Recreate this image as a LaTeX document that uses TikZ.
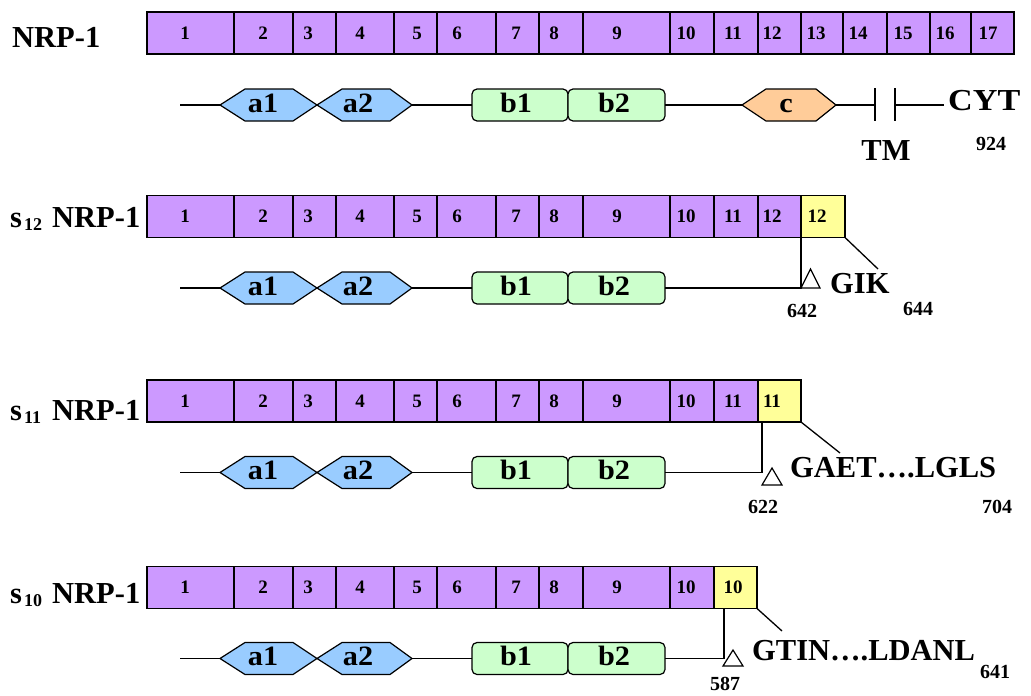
\documentclass[tikz,border=0pt]{standalone}
\usepackage{fontspec}
\setmainfont{Liberation Serif}
\usetikzlibrary{calc}
\definecolor{purp}{HTML}{CC99FF}
\definecolor{yel}{HTML}{FFFF99}
\definecolor{blu}{HTML}{99CCFF}
\definecolor{grn}{HTML}{CCFFCC}
\definecolor{org}{HTML}{FFCC99}
\tikzset{
  seg/.style={draw, line width=1.3pt, inner sep=0pt, outer sep=0pt, minimum height=42pt},
  num/.style={font=\fontsize{19}{19}\selectfont\bfseries, inner sep=0pt},
  big/.style={font=\fontsize{30.5}{31}\selectfont\bfseries, inner sep=0pt},
  dom/.style={font=\fontsize{28}{28}\selectfont\bfseries, inner sep=0pt, anchor=base},
  small/.style={font=\fontsize{20}{20}\selectfont\bfseries, inner sep=0pt, anchor=base},
  hexa/.style={draw, line width=1.2pt, line join=miter},
  rbox/.style={draw, line width=1.2pt, rounded corners=5pt, fill=grn, minimum height=32pt, inner sep=0pt, outer sep=0pt},
  ln/.style={line width=1.3pt},
  tri/.style={draw, line width=1.2pt, fill=white, line join=miter},
}
\newcommand\widetxt[1]{\scalebox{1.08}[1]{#1}}
\def\seglist{1/147/234/185,2/234/293/263,3/293/336/308,4/336/394/360,5/394/437/417,6/437/496/457,7/496/539/516,8/539/583/554,9/583/670/617,10/670/714/686,11/714/758/733,12/758/801/772,13/801/843/816,14/843/887/858,15/887/930/903,16/930/971/945,17/971/1014/988}
\newcommand\barrow[3]{%
  \foreach \i/\xa/\xb/\lx in \seglist {
    \ifnum\i>#3\relax\else
      \node[seg, fill=purp, minimum width={\xb pt-\xa pt}] (#1s\i) at ({(\xa+\xb)/2},#2) {};
      \node[num] (#1n\i) at (\lx,#2) {\i};
    \fi
  }%
}
\newcommand\domrow[2]{%
  \begin{scope}[shift={(0,#2)}]
    \coordinate (#1L) at (180,0);
    \draw[hexa, fill=blu] (220,0) -- (245,-16) -- (293,-16) -- (317,0) -- (293,16) -- (245,16) -- cycle;
    \draw[hexa, fill=blu] (317,0) -- (342,-16) -- (390,-16) -- (412,0) -- (390,16) -- (342,16) -- cycle;
    \coordinate (#1a1w) at (220,0);
    \coordinate (#1a2e) at (412,0);
    \node[dom] (#1ta1) at (263,7) {\widetxt{a1}};
    \node[dom] (#1ta2) at (358,7) {\widetxt{a2}};
    \node[rbox, minimum width=96pt] (#1b1) at (520,0) {};
    \node[rbox, minimum width=97pt] (#1b2) at (616.5,0) {};
    \node[dom] (#1tb1) at (516,7) {\widetxt{b1}};
    \node[dom] (#1tb2) at (614,7) {\widetxt{b2}};
    \draw[ln] (#1L) -- (#1a1w);
    \draw[ln] (#1a2e) -- (#1b1.west);
  \end{scope}%
}
\begin{document}
\begin{tikzpicture}[x=1pt,y=-1pt]
\useasboundingbox (0,0) rectangle (1031,696);
% ---------- row 1 ----------
\node[big, anchor=base west] (lab1) at (12,47) {NRP-1};
\barrow{r1}{33}{17}
\domrow{d1}{105}
\begin{scope}[shift={(0,105)}]
  \draw[hexa, fill=org] (742,0) -- (766,-16) -- (816,-16) -- (836,0) -- (816,16) -- (766,16) -- cycle;
  \coordinate (cW) at (742,0);
  \coordinate (cE) at (836,0);
  \node[dom] (tc) at (786,7) {\widetxt{c}};
  \coordinate (tm1) at (875,0);
  \coordinate (tm2) at (895,0);
  \coordinate (cytL) at (944,0);
  \draw[ln] (d1b2.east) -- (cW);
  \draw[ln] (cE) -- (tm1);
  \draw[ln] ($(tm1)+(0,-17)$) -- ($(tm1)+(0,16)$);
  \draw[ln] ($(tm2)+(0,-17)$) -- ($(tm2)+(0,16)$);
  \draw[ln] (tm2) -- (cytL);
\end{scope}
\node[big, anchor=base west] (cyt) at (948,110) {\scalebox{1.12}[1]{CYT}};
\node[big, anchor=base] (tm) at (886,160) {TM};
\node[small] (n924) at (991,150) {924};
% ---------- row 2 ----------
\node[big, anchor=base west] (s2) at (10,227) {s\hspace{2pt}\raisebox{-3pt}{\fontsize{18}{18}\selectfont 12}};
\node[big, anchor=base west] (lab2) at (52,227) {NRP-1};
\barrow{r2}{216.5}{12}
\node[seg, fill=yel, minimum width=44pt] (r2y) at (823,216.5) {};
\node[num] (r2yn) at (817,216.5) {12};
\domrow{d2}{288}
\coordinate (r2v) at (801,288);
\draw[ln] (d2b2.east) -- (r2v) -- (r2s12.south east);
\draw[tri] (801,288) -- (820,288) -- (810.5,269) -- cycle;
\coordinate (r2d) at (878,269);
\draw[ln] (r2y.south east) -- (r2d);
\node[big, anchor=base west] (gik) at (830,293) {GIK};
\node[small] (n642) at (802,317) {642};
\node[small] (n644) at (918,315) {644};
% ---------- row 3 ----------
\node[big, anchor=base west] (s3) at (10,420) {s\hspace{2pt}\raisebox{-3pt}{\fontsize{18}{18}\selectfont 11}};
\node[big, anchor=base west] (lab3) at (52,420) {NRP-1};
\barrow{r3}{401}{11}
\node[seg, fill=yel, minimum width=43pt] (r3y) at (779.5,401) {};
\node[num] (r3yn) at (772,401) {11};
\domrow{d3}{472.5}
\coordinate (r3v) at (762,472.5);
\draw[ln] (d3b2.east) -- (r3v) -- (r3v |- r3y.south);
\draw[tri] (762,485) -- (782,485) -- (772,468) -- cycle;
\coordinate (r3d) at (840,453);
\draw[ln] (r3y.south east) -- (r3d);
\node[big, anchor=base west] (gaet) at (790,477) {GAET….LGLS};
\node[small] (n622) at (763,513) {622};
\node[small] (n704) at (997,513) {704};
% ---------- row 4 ----------
\node[big, anchor=base west] (s4) at (10,603) {s\hspace{2pt}\raisebox{-3pt}{\fontsize{18}{18}\selectfont 10}};
\node[big, anchor=base west] (lab4) at (52,603) {NRP-1};
\barrow{r4}{587.5}{10}
\node[seg, fill=yel, minimum width=43pt] (r4y) at (735.5,587.5) {};
\node[num] (r4yn) at (733,587.5) {10};
\domrow{d4}{658.5}
\coordinate (r4v) at (724,658.5);
\draw[ln] (d4b2.east) -- (r4v) -- (r4v |- r4y.south);
\draw[tri] (723,666) -- (743,666) -- (733,650) -- cycle;
\coordinate (r4d) at (782,631);
\draw[ln] (r4y.south east) -- (r4d);
\node[big, anchor=base west] (gtin) at (752,660) {GTIN….LDANL};
\node[small] (n641) at (995,678) {641};
\node[small] (n587) at (725,690) {587};
\end{tikzpicture}
\end{document}
